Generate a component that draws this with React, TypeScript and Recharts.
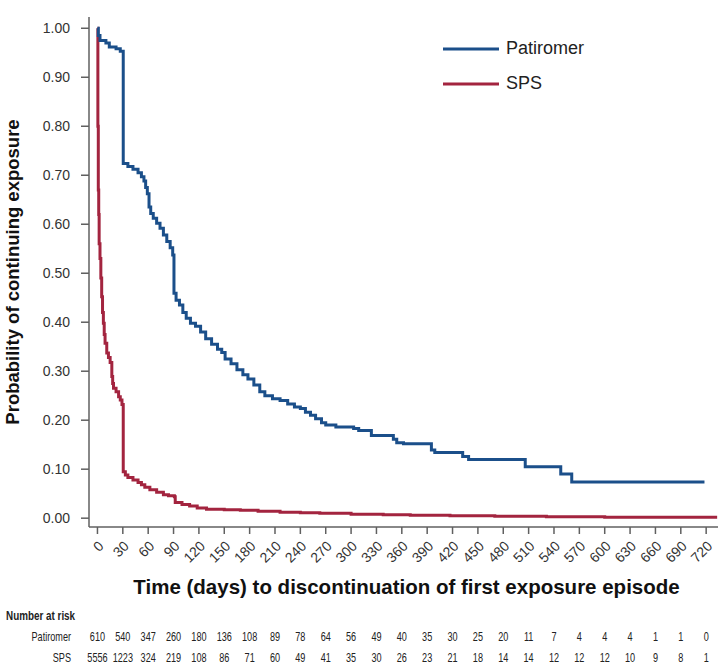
import { LineChart, Line, XAxis, YAxis, Legend } from "recharts"

const FONT = "'Liberation Sans', Arial, sans-serif"
const BLUE = "#1b4f8a"
const RED = "#a3243f"
const AXIS = "#606060"
const SQUEEZE = 0.76

const dayTicks = [0, 30, 60, 90, 120, 150, 180, 210, 240, 270, 300, 330, 360, 390, 420, 450, 480, 510, 540, 570, 600, 630, 660, 690, 720]
const probTicks = [0, 0.1, 0.2, 0.3, 0.4, 0.5, 0.6, 0.7, 0.8, 0.9, 1]

const patiromerAtRisk = [610, 540, 347, 260, 180, 136, 108, 89, 78, 64, 56, 49, 40, 35, 30, 25, 20, 11, 7, 4, 4, 4, 1, 1, 0]
const spsAtRisk = [5556, 1223, 324, 219, 108, 86, 71, 60, 49, 41, 35, 30, 26, 23, 21, 18, 14, 14, 12, 12, 12, 10, 9, 8, 1]

// Kaplan-Meier steps
const patiromerDays = [0, 1, 3, 10, 14, 22, 27, 30.5, 36, 42, 48, 52, 55, 57, 59, 61, 63, 66, 70, 74, 78, 82, 86, 89, 90.5, 93, 97, 101, 105, 110, 116, 122, 128, 135, 142, 147, 151, 158, 165, 172, 178, 185, 192, 198, 207, 216, 225, 233, 240, 246, 252, 258, 265, 270, 282, 303, 309, 324, 350, 354, 362, 395, 399, 432, 439, 506, 548, 561, 718]
const patiromerProb = [1, 0.985, 0.975, 0.97, 0.962, 0.958, 0.953, 0.724, 0.718, 0.712, 0.705, 0.697, 0.688, 0.675, 0.662, 0.635, 0.622, 0.612, 0.602, 0.592, 0.578, 0.565, 0.552, 0.537, 0.459, 0.445, 0.435, 0.42, 0.408, 0.398, 0.392, 0.38, 0.366, 0.355, 0.345, 0.338, 0.325, 0.315, 0.303, 0.293, 0.284, 0.272, 0.258, 0.25, 0.244, 0.24, 0.233, 0.227, 0.224, 0.216, 0.21, 0.203, 0.195, 0.19, 0.186, 0.183, 0.179, 0.169, 0.161, 0.154, 0.152, 0.139, 0.134, 0.126, 0.12, 0.105, 0.09, 0.074, 0.074]

const spsDays = [0, 0.5, 1, 1.5, 2, 3, 4, 5, 6, 7, 8, 9, 11, 13, 15, 17, 18, 19, 22, 25, 27, 29, 30.5, 33, 36, 42, 48, 52, 56, 62, 70, 78, 84, 91, 92, 100, 109, 118, 129, 150, 169, 190, 216, 240, 263, 300, 338, 370, 417, 470, 531, 600, 733]
const spsProb = [1, 0.8, 0.67, 0.62, 0.56, 0.53, 0.49, 0.452, 0.42, 0.398, 0.375, 0.357, 0.337, 0.328, 0.318, 0.289, 0.275, 0.265, 0.258, 0.248, 0.241, 0.232, 0.095, 0.088, 0.083, 0.078, 0.073, 0.068, 0.063, 0.058, 0.053, 0.048, 0.046, 0.044, 0.032, 0.028, 0.025, 0.021, 0.018, 0.017, 0.016, 0.014, 0.012, 0.011, 0.01, 0.008, 0.007, 0.006, 0.005, 0.004, 0.003, 0.002, 0.002]

const patiromerData = patiromerDays.map((day, i) => ({ day, prob: patiromerProb[i] }))
const spsData = spsDays.map((day, i) => ({ day, prob: spsProb[i] }))

const series = [
  { name: "Patiromer", color: BLUE },
  { name: "SPS", color: RED },
]

// narrow text (no narrow font installed, so squeeze a regular one)
function Narrow({ x, y, anchor, bold, size, children }: any) {
  return (
    <text
      transform={`translate(${x}, ${y}) scale(${SQUEEZE}, 1)`}
      textAnchor={anchor}
      fontSize={size}
      fontWeight={bold ? "bold" : "normal"}
      fill="#222"
      fontFamily={FONT}
    >
      {children}
    </text>
  )
}

function DayTick(props: any) {
  const { x, y, payload } = props
  const i = dayTicks.indexOf(payload.value)
  const lx = x + 7
  const ly = y + 11
  return (
    <g>
      <text x={lx} y={ly} transform={`rotate(-45, ${lx}, ${ly})`} textAnchor="end" fontSize={14} fill="#333" fontFamily={FONT}>
        {payload.value}
      </text>
      <Narrow x={x} y={y + 105} anchor="middle" size={12}>{patiromerAtRisk[i]}</Narrow>
      <Narrow x={x} y={y + 126} anchor="middle" size={12}>{spsAtRisk[i]}</Narrow>
      {i === 0 && (
        <g>
          <Narrow x={6} y={y + 84} anchor="start" size={13} bold>Number at risk</Narrow>
          <Narrow x={71} y={y + 105} anchor="end" size={12}>Patiromer</Narrow>
          <Narrow x={71} y={y + 126} anchor="end" size={12}>SPS</Narrow>
        </g>
      )}
    </g>
  )
}

function KMLegend() {
  return (
    <div style={{ fontFamily: FONT, fontSize: 18, color: "#222" }}>
      {series.map((s) => (
        <div key={s.name} style={{ display: "flex", alignItems: "center", height: 35 }}>
          <svg width={56} height={4}>
            <line x1={0} y1={2} x2={56} y2={2} stroke={s.color} strokeWidth={3} />
          </svg>
          <span style={{ marginLeft: 7 }}>{s.name}</span>
        </div>
      ))}
    </div>
  )
}

export default function App() {
  return (
    <div style={{ position: "absolute", left: 0, top: 0, width: 720, height: 664, background: "#fff" }}>
      <LineChart
        width={720}
        height={664}
        margin={{ top: 17, right: 2, left: 0, bottom: 0 }}
        style={{ fontFamily: FONT }}
      >
        <XAxis
          type="number"
          dataKey="day"
          domain={[-10, 734]}
          allowDataOverflow
          ticks={dayTicks}
          interval={0}
          height={137}
          tickSize={7}
          tickMargin={2}
          stroke={AXIS}
          strokeWidth={1.5}
          tick={<DayTick />}
          label={{
            content: ({ viewBox }: any) => (
              <text
                x={viewBox.x + viewBox.width / 2 + 3}
                y={viewBox.y + 67}
                textAnchor="middle"
                fontSize={20.5}
                fontWeight="bold"
                fill="#111"
                fontFamily={FONT}
              >
                Time (days) to discontinuation of first exposure episode
              </text>
            ),
          }}
        />
        <YAxis
          type="number"
          domain={[-0.018, 1.023]}
          allowDataOverflow
          ticks={probTicks}
          interval={0}
          width={89}
          tickSize={8}
          tickMargin={11}
          stroke={AXIS}
          strokeWidth={1.5}
          tick={{ fontSize: 14, fill: "#333" }}
          tickFormatter={(v: number) => v.toFixed(2)}
          label={{
            content: ({ viewBox }: any) => {
              const cx = 19
              const cy = viewBox.y + viewBox.height / 2
              return (
                <text
                  x={cx}
                  y={cy}
                  transform={`rotate(-90, ${cx}, ${cy})`}
                  textAnchor="middle"
                  fontSize={18.5}
                  fontWeight="bold"
                  fill="#111"
                  fontFamily={FONT}
                >
                  Probability of continuing exposure
                </text>
              )
            },
          }}
        />
        <Legend
          layout="vertical"
          align="center"
          verticalAlign="middle"
          content={<KMLegend />}
          wrapperStyle={{ top: 31, left: 443, width: 220 }}
        />
        <Line
          data={spsData}
          dataKey="prob"
          name="SPS"
          type="stepAfter"
          stroke={RED}
          strokeWidth={3}
          dot={false}
          isAnimationActive={false}
        />
        <Line
          data={patiromerData}
          dataKey="prob"
          name="Patiromer"
          type="stepAfter"
          stroke={BLUE}
          strokeWidth={3}
          dot={false}
          isAnimationActive={false}
        />
      </LineChart>
    </div>
  )
}
